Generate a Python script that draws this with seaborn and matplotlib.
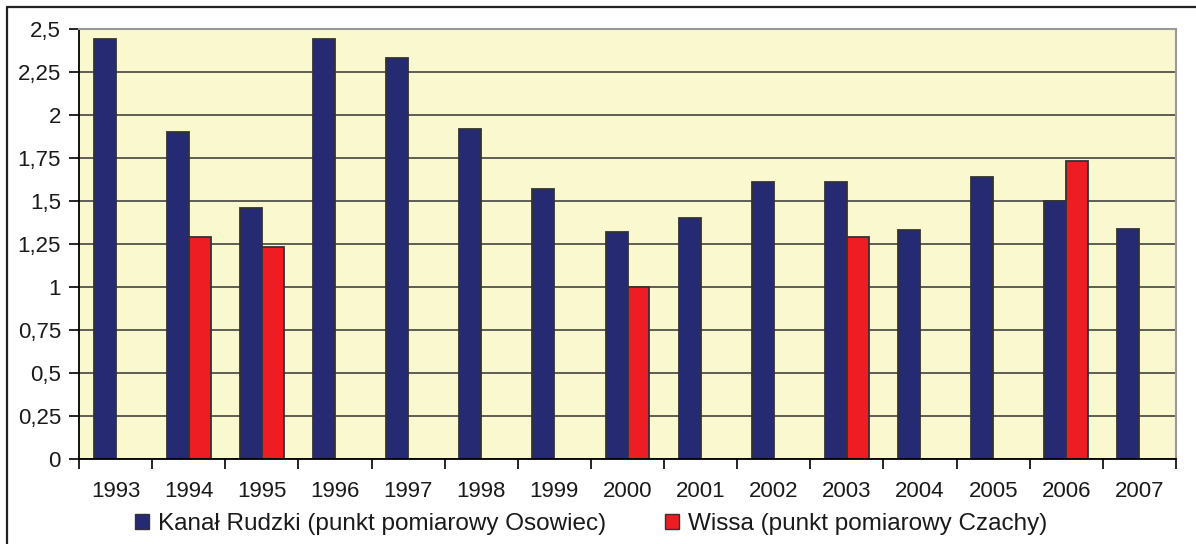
import numpy as np
import pandas as pd
import matplotlib.pyplot as plt
from matplotlib.lines import Line2D
from matplotlib.patches import Patch
import seaborn as sns

# data
years = [str(y) for y in range(1993, 2008)]
rudzki = [2.44, 1.90, 1.46, 2.44, 2.33, 1.92, 1.57, 1.32, 1.40, 1.61, 1.61, 1.33, 1.64, 1.50, 1.34]
wissa = [np.nan, 1.29, 1.23, np.nan, np.nan, np.nan, np.nan, 1.00, np.nan, np.nan, 1.29, np.nan, np.nan, 1.73, np.nan]
series = ["Kanał Rudzki (punkt pomiarowy Osowiec)", "Wissa (punkt pomiarowy Czachy)"]
colors = ["#262A73", "#EE1D23"]
yticks = [0, 0.25, 0.5, 0.75, 1, 1.25, 1.5, 1.75, 2, 2.25, 2.5]

df = pd.DataFrame({
    "year": years * 2,
    "value": rudzki + wissa,
    "series": [series[0]] * len(years) + [series[1]] * len(years),
}).dropna()

sns.set_style("white")
plt.rcParams["font.family"] = ["Liberation Sans", "DejaVu Sans"]
plt.rcParams["font.size"] = 16
plt.rcParams["text.color"] = "#1a1a1a"

fig = plt.figure(figsize=(11.96, 5.44), dpi=100)
ax = fig.add_axes([79 / 1196, 85 / 544, 1097 / 1196, 430 / 544])
ax.set_facecolor("#FAF8CE")

sns.barplot(data=df, x="year", y="value", hue="series", order=years,
            hue_order=series, palette=colors, width=0.6, errorbar=None,
            edgecolor="#333333", linewidth=1.3, saturation=1, legend=False, ax=ax)

ax.set_xlim(-0.5, len(years) - 0.5)
ax.set_ylim(0, 2.5)
ax.set_axisbelow(True)
ax.yaxis.grid(True, color="#333333", linewidth=1.1)
ax.xaxis.grid(False)

ax.set_yticks(yticks)
ax.set_yticklabels([f"{t:g}".replace(".", ",") for t in yticks])
ax.set_xticks(np.arange(-0.5, len(years), 1), minor=True)
ax.tick_params(axis="x", which="major", length=0, pad=16, labelsize=16, labelcolor="#1a1a1a")
ax.tick_params(axis="x", which="minor", length=7, width=1.2, color="black", direction="out", bottom=True)
ax.tick_params(axis="y", length=7, width=1.2, color="black", direction="out", pad=6,
               left=True, labelsize=16, labelcolor="#1a1a1a")
ax.set_xlabel("")
ax.set_ylabel("")

for s in ["top", "right"]:
    ax.spines[s].set_color("#999999")
    ax.spines[s].set_linewidth(1.5)
for s in ["left", "bottom"]:
    ax.spines[s].set_color("black")
    ax.spines[s].set_linewidth(1.3)

handles = [Patch(facecolor=c, edgecolor="#333333", linewidth=1.0) for c in colors]
fig.legend(handles, series, loc="center", bbox_to_anchor=(591 / 1196, 20 / 544), ncol=2,
           frameon=False, fontsize=17.5, handlelength=0.6, handleheight=0.6,
           handletextpad=0.37, columnspacing=2.4)

# outer chart frame (cut off at right and bottom)
fig.add_artist(Line2D([7 / 1196, 1.0], [1 - 7 / 544, 1 - 7 / 544], color="#222222", linewidth=1.6))
fig.add_artist(Line2D([7 / 1196, 7 / 1196], [0.0, 1 - 7 / 544], color="#222222", linewidth=1.6))

fig.savefig("out.png", dpi=100)
